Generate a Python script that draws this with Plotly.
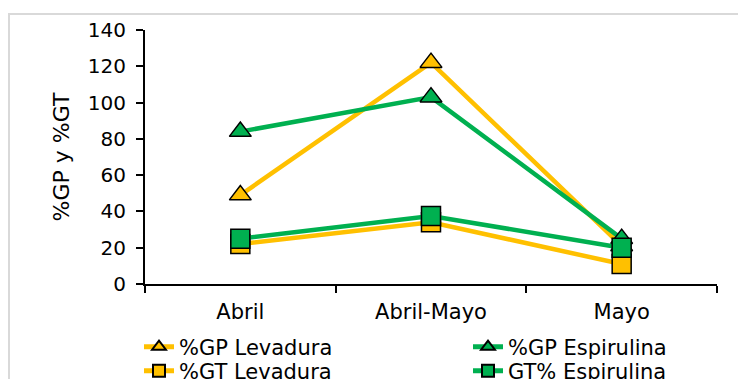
import plotly.graph_objects as go

# Sampling periods (x categories)
periodos = ["Abril", "Abril-Mayo", "Mayo"]

# Percentages per feed type
gp_levadura = [49, 122, 21]
gp_espirulina = [84, 103, 25]
gt_levadura = [22, 34, 11]
gt_espirulina = [25, 37.5, 20]

y_ticks = [0, 20, 40, 60, 80, 100, 120, 140]

AMARILLO = "#FFC000"
VERDE = "#00B050"

W, H = 738, 379
L, R, T, B = 145, 21, 30, 95
PW, PH = W - L - R, H - T - B


def px_x(px):
    return (px - L) / PW


def px_y(py):
    return (H - B - py) / PH


# name, values, colour, marker, legend id, legend anchor (px)
series = [
    ("%GP Levadura", gp_levadura, AMARILLO, "triangle-up", "legend", (139, 347)),
    ("%GP Espirulina", gp_espirulina, VERDE, "triangle-up", "legend2", (468, 347)),
    ("%GT Levadura", gt_levadura, AMARILLO, "square", "legend3", (139, 371)),
    ("GT% Espirulina", gt_espirulina, VERDE, "square", "legend4", (468, 371)),
]

FONT = "DejaVu Sans"

fig = go.Figure()
legends = {}
for nombre, valores, color, simbolo, leyenda, (lx, ly) in series:
    fig.add_trace(go.Scatter(
        x=periodos, y=valores, name=nombre, mode="lines+markers",
        line=dict(color=color, width=4.5),
        marker=dict(symbol=simbolo, color=color, size=19,
                    line=dict(color="black", width=1.5)),
        legend=leyenda,
    ))
    legends[leyenda] = dict(
        x=px_x(lx), y=px_y(ly), xanchor="left", yanchor="middle",
        orientation="v", bgcolor="rgba(0,0,0,0)", borderwidth=0,
        font=dict(family=FONT, size=21, color="black"),
        itemsizing="constant",
    )

fig.update_layout(
    width=W, height=H,
    margin=dict(l=L, r=R, t=T, b=B, autoexpand=False),
    paper_bgcolor="white", plot_bgcolor="white",
    font=dict(family=FONT, color="black"),
    showlegend=True,
    **legends,
    xaxis=dict(
        range=[-0.5, 2.5], showgrid=False, zeroline=False,
        showline=True, linecolor="black", linewidth=2,
        ticks="outside", tickson="boundaries", ticklen=7,
        tickcolor="black", tickwidth=1.5,
        tickfont=dict(family=FONT, size=21, color="black"),
        ticklabelstandoff=8,
    ),
    yaxis=dict(
        range=[0, 140], tickvals=y_ticks, showgrid=False, zeroline=False,
        showline=True, linecolor="black", linewidth=2,
        ticks="outside", ticklen=7, tickcolor="black", tickwidth=1.5,
        tickfont=dict(family=FONT, size=20, color="black"),
        ticklabelstandoff=6,
        title=dict(text="%GP y %GT", font=dict(family=FONT, size=22, color="black"),
                   standoff=12),
    ),
    shapes=[dict(
        type="rect", xref="paper", yref="paper",
        x0=px_x(9), x1=px_x(800), y0=px_y(450), y1=px_y(14),
        line=dict(color="#d9d9d9", width=2), layer="below",
    )],
)

fig.write_html("out.html")
